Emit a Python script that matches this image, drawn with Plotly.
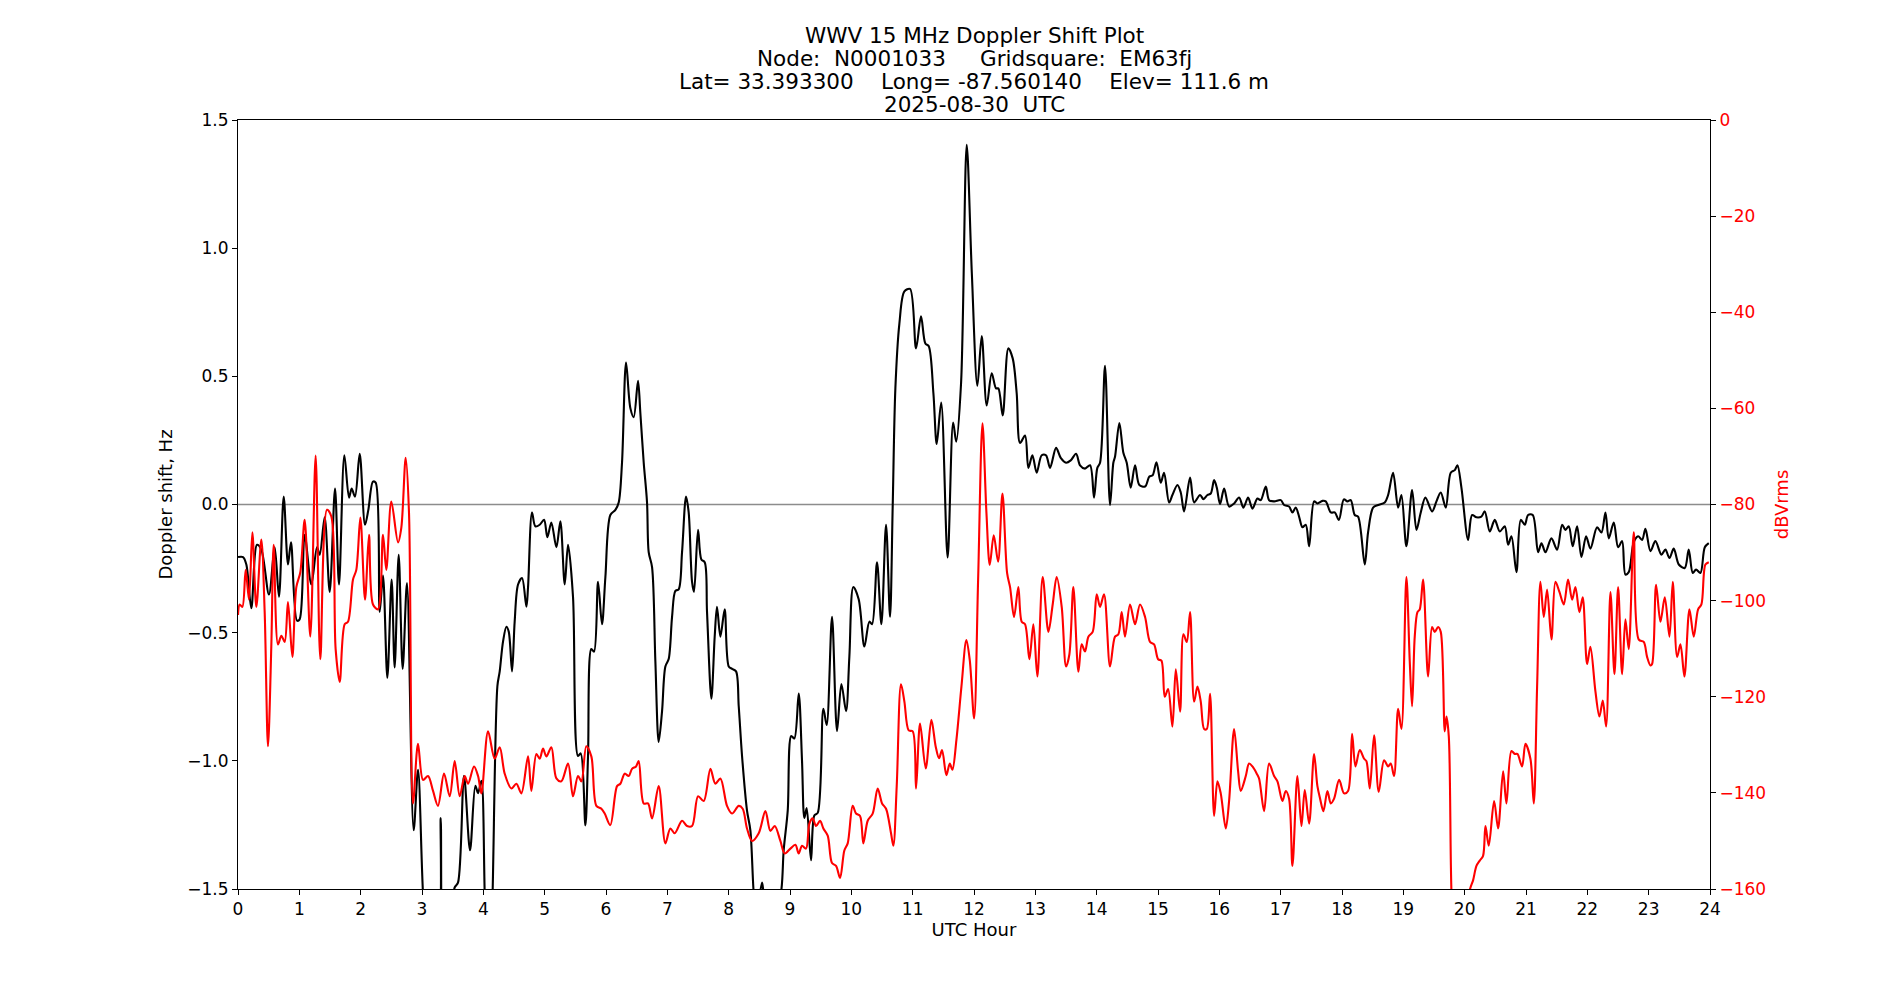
import plotly.graph_objects as go

# ---- Doppler shift (black), hours UTC and Hz ----
doppler_hours = [0.000,0.082,0.136,0.217,0.310,0.380,0.505,0.598,0.668,0.745,0.815,0.864,0.962,1.005,1.087,1.196,1.288,1.332,1.413,1.495,1.582,1.647,1.734,1.810,1.853,1.908,1.984,2.071,2.125,2.201,2.245,2.310,2.364,2.435,2.505,2.554,2.620,2.685,2.755,2.864,2.935,3.017,3.10,3.25,3.305,3.35,3.45,3.533,3.587,3.685,3.783,3.870,3.914,3.968,4.033,4.10,4.142,4.229,4.267,4.321,4.376,4.414,4.468,4.511,4.566,4.631,4.702,4.729,4.794,4.848,4.919,4.990,5.044,5.109,5.191,5.256,5.327,5.381,5.462,5.544,5.588,5.664,5.707,5.761,5.805,5.870,5.935,5.990,6.071,6.153,6.207,6.261,6.327,6.397,6.452,6.522,6.560,6.615,6.669,6.696,6.751,6.805,6.859,6.914,6.968,7.022,7.077,7.131,7.185,7.240,7.305,7.348,7.403,7.435,7.501,7.555,7.609,7.647,7.718,7.772,7.810,7.865,7.935,8.001,8.055,8.120,8.164,8.218,8.299,8.354,8.408,8.45,8.544,8.571,8.70,8.859,8.897,8.963,9.020,9.071,9.142,9.196,9.234,9.272,9.343,9.397,9.452,9.544,9.598,9.685,9.767,9.838,9.914,9.968,10.033,10.120,10.213,10.294,10.338,10.419,10.490,10.566,10.631,10.674,10.718,10.783,10.865,10.957,11.055,11.136,11.207,11.261,11.338,11.392,11.465,11.570,11.660,11.710,11.789,11.881,11.965,12.055,12.126,12.207,12.289,12.359,12.397,12.468,12.560,12.631,12.696,12.751,12.832,12.886,12.952,13.022,13.104,13.174,13.240,13.338,13.414,13.501,13.577,13.664,13.729,13.810,13.892,13.957,14.011,14.055,14.136,14.218,14.272,14.299,14.370,14.435,14.490,14.555,14.626,14.696,14.789,14.859,14.913,14.975,15.045,15.099,15.181,15.235,15.317,15.371,15.425,15.523,15.589,15.686,15.741,15.806,15.860,15.915,15.958,16.012,16.078,16.159,16.241,16.322,16.393,16.469,16.540,16.621,16.675,16.757,16.811,16.893,17.002,17.056,17.137,17.192,17.246,17.300,17.355,17.409,17.464,17.545,17.599,17.681,17.735,17.817,17.882,17.950,18.030,18.089,18.143,18.208,18.262,18.371,18.425,18.507,18.589,18.697,18.752,18.833,18.915,18.969,19.050,19.143,19.214,19.284,19.360,19.469,19.540,19.610,19.692,19.773,19.839,19.882,19.947,20.056,20.121,20.192,20.273,20.328,20.409,20.491,20.572,20.654,20.708,20.763,20.844,20.915,20.980,21.034,21.110,21.197,21.252,21.317,21.415,21.507,21.589,21.643,21.697,21.762,21.833,21.904,21.980,22.050,22.159,22.230,22.295,22.349,22.431,22.502,22.567,22.621,22.675,22.757,22.828,22.893,22.947,23.029,23.110,23.208,23.273,23.339,23.409,23.491,23.588,23.653,23.719,23.773,23.844,23.915,23.980]
doppler_hz = [-0.205,-0.205,-0.234,-0.405,-0.157,-0.176,-0.351,-0.167,-0.360,0.031,-0.234,-0.147,-0.453,-0.448,-0.118,-0.312,-0.167,-0.196,-0.050,-0.341,0.062,-0.312,0.192,0.027,0.062,0.031,0.198,-0.079,-0.021,0.089,0.085,-0.419,-0.277,-0.676,-0.293,-0.636,-0.196,-0.641,-0.306,-1.271,-1.035,-1.52,-1.8,-1.75,-1.223,-1.8,-1.7,-1.494,-1.475,-1.058,-1.349,-1.097,-1.126,-1.078,-1.6,-1.8,-1.6,-0.709,-0.651,-0.535,-0.477,-0.496,-0.651,-0.457,-0.312,-0.287,-0.399,-0.322,-0.031,-0.085,-0.079,-0.060,-0.128,-0.070,-0.167,-0.066,-0.312,-0.157,-0.360,-0.981,-0.971,-1.252,-0.981,-0.564,-0.574,-0.302,-0.467,-0.283,-0.041,-0.021,0.008,0.163,0.554,0.376,0.341,0.483,0.357,0.163,0.008,-0.186,-0.244,-0.612,-0.926,-0.806,-0.632,-0.603,-0.438,-0.337,-0.331,-0.186,0.031,-0.031,-0.302,-0.341,-0.099,-0.215,-0.225,-0.419,-0.758,-0.516,-0.399,-0.516,-0.409,-0.632,-0.641,-0.651,-0.787,-0.981,-1.194,-1.271,-1.514,-1.6,-1.475,-1.52,-1.7,-1.504,-1.349,-1.194,-0.903,-0.913,-0.738,-1.000,-1.223,-1.184,-1.388,-1.213,-1.203,-0.797,-0.860,-0.438,-0.884,-0.700,-0.806,-0.593,-0.322,-0.370,-0.554,-0.457,-0.467,-0.225,-0.467,-0.079,-0.438,-0.012,0.453,0.705,0.831,0.841,0.609,0.734,0.628,0.618,0.434,0.236,0.398,-0.207,0.320,0.245,0.473,1.403,0.900,0.463,0.657,0.386,0.512,0.453,0.453,0.347,0.609,0.570,0.434,0.240,0.269,0.143,0.192,0.124,0.192,0.192,0.143,0.221,0.182,0.163,0.172,0.198,0.153,0.140,0.153,0.027,0.143,0.163,0.541,-0.002,0.163,0.186,0.318,0.202,0.163,0.066,0.153,0.076,0.070,0.109,0.114,0.165,0.085,0.124,0.008,0.037,0.076,0.047,-0.027,0.105,0.008,0.037,0.021,0.037,0.043,0.095,0.066,0.002,0.062,-0.008,0.004,0.027,-0.012,0.027,-0.016,0.023,0.017,0.070,0.017,0.012,0.017,-0.002,-0.008,-0.031,-0.012,-0.047,-0.089,-0.079,-0.163,0.012,0.004,0.014,0.012,-0.031,-0.031,-0.060,0.020,0.012,0.017,-0.041,-0.047,-0.234,-0.109,-0.012,-0.002,0.008,0.037,0.124,-0.012,0.037,-0.163,0.056,-0.099,-0.031,0.027,-0.027,0.012,0.047,-0.012,0.124,0.134,0.153,0.066,-0.138,-0.041,-0.050,-0.047,-0.027,-0.105,-0.060,-0.105,-0.085,-0.157,-0.124,-0.264,-0.060,-0.079,-0.041,-0.041,-0.186,-0.151,-0.186,-0.132,-0.176,-0.079,-0.099,-0.085,-0.163,-0.085,-0.205,-0.124,-0.172,-0.089,-0.109,-0.031,-0.132,-0.070,-0.167,-0.143,-0.273,-0.264,-0.147,-0.124,-0.138,-0.095,-0.182,-0.143,-0.196,-0.176,-0.209,-0.172,-0.234,-0.248,-0.176,-0.267,-0.254,-0.267,-0.167,-0.151]

# ---- Signal level (red), hours UTC and dBVrms ----
power_hours = [0.000,0.027,0.071,0.125,0.179,0.234,0.299,0.380,0.435,0.489,0.543,0.582,0.652,0.707,0.761,0.815,0.886,0.951,1.016,1.087,1.179,1.266,1.342,1.451,1.522,1.592,1.658,1.739,1.793,1.875,1.929,1.995,2.071,2.136,2.201,2.283,2.364,2.418,2.500,2.609,2.663,2.734,2.788,2.853,2.935,3.017,3.098,3.180,3.261,3.359,3.452,3.533,3.615,3.696,3.751,3.848,3.914,3.968,4.077,4.185,4.267,4.348,4.457,4.539,4.620,4.729,4.783,4.865,4.919,4.973,5.028,5.109,5.191,5.272,5.381,5.462,5.544,5.599,5.680,5.761,5.843,5.925,5.979,6.070,6.180,6.234,6.305,6.370,6.424,6.490,6.533,6.615,6.685,6.751,6.859,6.968,7.049,7.120,7.240,7.321,7.403,7.501,7.593,7.702,7.783,7.865,7.973,8.055,8.164,8.229,8.299,8.381,8.490,8.599,8.680,8.751,8.843,8.914,9.006,9.087,9.142,9.196,9.261,9.316,9.370,9.424,9.490,9.544,9.615,9.685,9.751,9.816,9.886,9.941,10.022,10.077,10.142,10.196,10.267,10.348,10.430,10.501,10.566,10.647,10.685,10.740,10.810,10.865,10.935,11.001,11.055,11.120,11.213,11.305,11.376,11.430,11.479,11.550,11.605,11.648,11.713,11.795,11.876,11.931,12.002,12.067,12.138,12.203,12.257,12.322,12.393,12.464,12.540,12.588,12.653,12.723,12.778,12.832,12.903,12.968,13.033,13.120,13.213,13.283,13.348,13.430,13.501,13.555,13.620,13.702,13.756,13.810,13.865,13.935,14.001,14.055,14.120,14.218,14.299,14.354,14.408,14.462,14.544,14.626,14.707,14.789,14.870,14.936,15.002,15.056,15.110,15.165,15.235,15.290,15.360,15.415,15.469,15.523,15.589,15.643,15.697,15.752,15.795,15.849,15.915,15.969,16.023,16.105,16.159,16.241,16.306,16.349,16.431,16.485,16.540,16.610,16.648,16.730,16.811,16.893,16.947,17.029,17.083,17.137,17.192,17.273,17.339,17.393,17.464,17.545,17.599,17.643,17.697,17.762,17.817,17.871,17.953,18.034,18.099,18.165,18.219,18.290,18.360,18.398,18.453,18.523,18.599,18.686,18.752,18.795,18.849,18.915,18.969,19.050,19.105,19.143,19.186,19.230,19.268,19.322,19.404,19.469,19.512,19.567,19.610,19.675,19.703,19.741,19.784,19.85,19.95,20.03,20.083,20.137,20.192,20.246,20.300,20.339,20.393,20.480,20.545,20.627,20.681,20.763,20.817,20.860,20.936,20.991,21.072,21.127,21.181,21.235,21.290,21.344,21.415,21.480,21.545,21.616,21.686,21.752,21.806,21.871,21.925,21.996,22.050,22.132,22.197,22.252,22.306,22.377,22.442,22.502,22.567,22.621,22.675,22.757,22.839,22.920,22.974,23.029,23.056,23.121,23.192,23.263,23.339,23.393,23.464,23.518,23.583,23.665,23.735,23.806,23.860,23.925,23.980]
power_dbv = [-103.0,-100.8,-101.3,-93.6,-99.8,-85.8,-101.3,-87.3,-102.4,-130.3,-109.6,-88.4,-109.1,-107.3,-108.6,-100.3,-111.7,-97.2,-94.1,-83.2,-107.5,-69.8,-112.2,-81.1,-82.5,-110.1,-116.9,-104.9,-104.4,-95.6,-93.6,-82.7,-99.8,-86.3,-100.8,-101.8,-86.3,-93.6,-79.4,-87.9,-84.8,-70.3,-81.7,-142.2,-129.8,-137.3,-136.5,-139.6,-142.7,-136.0,-140.7,-133.4,-140.7,-136.5,-138.1,-134.5,-136.5,-140.1,-127.2,-132.9,-130.5,-136.0,-139.1,-138.1,-140.1,-132.4,-139.6,-131.9,-132.9,-130.8,-132.4,-130.5,-137.0,-137.6,-133.9,-140.7,-136.5,-137.6,-130.3,-132.4,-142.7,-143.3,-144.3,-146.7,-138.6,-138.1,-136.0,-136.5,-135.0,-134.5,-133.4,-142.2,-142.2,-145.3,-138.6,-150.5,-147.4,-148.4,-145.8,-146.9,-146.9,-140.7,-141.7,-135.0,-138.1,-137.0,-142.7,-144.3,-142.7,-143.3,-147.4,-150.0,-148.4,-143.8,-147.9,-146.9,-150.0,-152.6,-151.6,-150.8,-152.6,-151.0,-151.6,-146.4,-145.3,-146.9,-145.8,-147.4,-148.9,-154.6,-155.2,-157.7,-152.0,-150.5,-142.7,-144.3,-144.8,-150.5,-145.8,-144.3,-139.1,-142.2,-143.3,-148.4,-151.0,-138.6,-117.4,-121.0,-127.0,-127.2,-139.1,-125.6,-134.9,-124.8,-130.4,-132.8,-131.1,-136.3,-133.9,-135.2,-129.0,-117.9,-108.2,-112.4,-124.5,-95.7,-63.1,-81.8,-92.6,-86.4,-91.9,-77.7,-94.3,-97.2,-103.4,-97.2,-104.4,-104.9,-112.2,-104.9,-115.8,-95.1,-106.5,-100.8,-95.1,-101.3,-113.7,-111.2,-97.2,-114.8,-109.1,-110.6,-107.5,-106.5,-98.7,-101.3,-98.7,-113.7,-107.5,-107.0,-102.4,-107.5,-100.8,-104.9,-100.8,-103.4,-108.6,-109.1,-112.2,-112.5,-120.0,-118.4,-126.2,-114.3,-123.1,-107.0,-108.6,-102.4,-121.0,-117.9,-121.0,-126.7,-126.7,-119.4,-144.8,-137.6,-140.1,-147.4,-141.7,-126.7,-135.5,-139.6,-136.5,-133.9,-134.5,-136.0,-137.0,-143.8,-133.9,-136.5,-137.6,-141.7,-139.6,-141.2,-155.2,-136.5,-146.9,-139.4,-146.4,-131.9,-138.6,-141.2,-143.8,-139.6,-142.2,-141.2,-137.3,-140.1,-139.6,-127.7,-134.5,-131.1,-132.9,-133.4,-139.1,-128.0,-139.8,-133.2,-134.5,-133.9,-136.5,-122.5,-126.7,-95.1,-112.7,-122.0,-107.5,-102.4,-101.8,-95.6,-115.8,-105.5,-106.5,-105.5,-106.5,-127.2,-124.1,-128.2,-160.3,-178.0,-180.0,-175.0,-160.3,-158.2,-155.2,-154.1,-153.1,-146.9,-151.0,-141.7,-147.4,-135.5,-142.2,-131.3,-131.9,-131.9,-134.5,-129.8,-132.9,-142.2,-117.9,-96.1,-103.4,-97.7,-108.1,-96.1,-98.2,-100.8,-95.6,-99.8,-97.2,-102.4,-99.3,-113.2,-109.6,-118.9,-124.1,-120.8,-126.2,-98.2,-115.3,-97.2,-115.3,-103.9,-110.1,-85.8,-108.1,-108.6,-111.7,-113.5,-113.2,-96.7,-104.4,-99.3,-107.5,-96.1,-111.7,-109.1,-115.8,-101.8,-107.5,-101.8,-100.8,-92.5,-92.0]

x_ticks = list(range(0, 25))
doppler_ticks = [-1.5, -1.0, -0.5, 0.0, 0.5, 1.0, 1.5]
power_ticks = [0, -20, -40, -60, -80, -100, -120, -140, -160]

title_lines = [
    "WWV 15 MHz Doppler Shift Plot",
    "Node:  N0001033     Gridsquare:  EM63fj",
    "Lat= 33.393300    Long= -87.560140    Elev= 111.6 m",
    "2025-08-30  UTC",
]

FONT = "DejaVu Sans"
TICK_SIZE = 17
LABEL_SIZE = 18
TITLE_SIZE = 21.5

fig = go.Figure()
fig.add_trace(go.Scatter(
    x=doppler_hours, y=doppler_hz, mode="lines",
    line=dict(color="black", width=2.1, shape="spline", smoothing=0.9),
    yaxis="y", showlegend=False, hoverinfo="x+y"))
fig.add_trace(go.Scatter(
    x=power_hours, y=power_dbv, mode="lines",
    line=dict(color="red", width=2.1, shape="spline", smoothing=0.9),
    yaxis="y2", showlegend=False, hoverinfo="x+y"))

fig.add_shape(type="line", xref="paper", x0=0, x1=1, yref="y", y0=0, y1=0,
              line=dict(color="#8c8c8c", width=1.3), layer="below")

axis_common = dict(showgrid=False, zeroline=False, ticks="outside", ticklen=5,
                   tickwidth=1, tickcolor="black", showline=True,
                   linecolor="black", linewidth=1)

# title lines: vertical offsets (px above plot top) of each line's centre
title_shifts = [85, 62, 39, 16]
annotations = [
    dict(text=line, xref="paper", yref="paper", x=0.5, y=1,
         xanchor="center", yanchor="middle", yshift=shift,
         showarrow=False, font=dict(family=FONT, size=TITLE_SIZE, color="black"))
    for line, shift in zip(title_lines, title_shifts)
]

fig.update_layout(
    width=1900, height=1000,
    margin=dict(l=238, r=190, t=120, b=111),
    paper_bgcolor="white", plot_bgcolor="white",
    font=dict(family=FONT, size=TICK_SIZE, color="black"),
    xaxis=dict(range=[0, 24], tickvals=x_ticks, mirror=True,
               tickfont=dict(size=TICK_SIZE),
               title=dict(text="UTC Hour", standoff=4,
                          font=dict(family=FONT, size=LABEL_SIZE)),
               **axis_common),
    yaxis=dict(range=[-1.5, 1.5], tickvals=doppler_ticks, tickformat=".1f",
               tickfont=dict(size=TICK_SIZE),
               title=dict(text="Doppler shift, Hz", standoff=10,
                          font=dict(family=FONT, size=LABEL_SIZE)),
               **axis_common),
    yaxis2=dict(range=[-160, 0], tickvals=power_ticks, overlaying="y",
                side="right", tickfont=dict(color="red", size=TICK_SIZE),
                title=dict(text="dBVrms", standoff=10,
                           font=dict(family=FONT, size=LABEL_SIZE, color="red")),
                **axis_common),
    annotations=annotations,
)

fig.write_html("out.html")
